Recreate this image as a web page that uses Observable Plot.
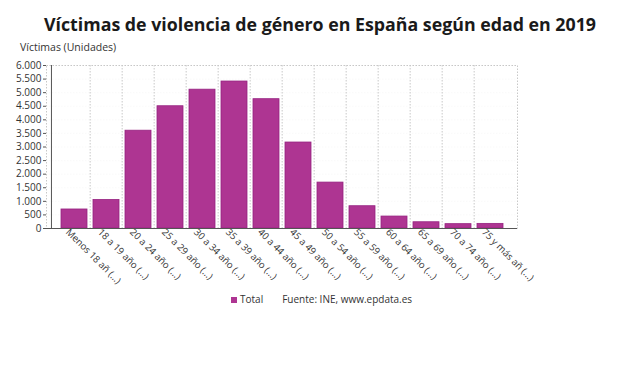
<!DOCTYPE html>
<html>
<head>
<meta charset="utf-8">
<script src="https://cdn.jsdelivr.net/npm/d3@7"></script>
<script src="https://cdn.jsdelivr.net/npm/@observablehq/plot@0.6"></script>
<style>
  html, body { margin: 0; padding: 0; background: #fff; }
  #wrap { position: relative; width: 640px; height: 376px; font-family: "Open Sans", sans-serif; color: #333; overflow: hidden; }
  #title { position: absolute; left: 0; width: 640px; top: 12px; text-align: center; font-size: 17.8px; font-weight: 700; color: #1a1a1a; white-space: nowrap; }
  #ylab { position: absolute; left: 20px; top: 40px; font-size: 10.5px; color: #333; }
  #legend { position: absolute; left: 231px; top: 292px; font-size: 10px; color: #333; white-space: nowrap; }
  #legend .sw { display: inline-block; width: 6px; height: 6px; background: #ae3592; margin-right: 3px; }
  #chart { position: absolute; left: 0; top: 0; }
</style>
</head>
<body>
<div id="wrap">
  <div id="chart"></div>
  <div id="title">Víctimas de violencia de género en España según edad en 2019</div>
  <div id="ylab">Víctimas (Unidades)</div>
  <div id="legend"><span class="sw"></span>Total<span style="display:inline-block;width:19px"></span>Fuente: INE, www.epdata.es</div>
</div>
<script>
const categories = ["Menos 18 añ (...)", "18 a 19 año (...)", "20 a 24 año (...)", "25 a 29 año (...)", "30 a 34 año (...)", "35 a 39 año (...)", "40 a 44 año (...)", "45 a 49 año (...)", "50 a 54 año (...)", "55 a 59 año (...)", "60 a 64 año (...)", "65 a 69 año (...)", "70 a 74 año (...)", "75 y más añ (...)"];
const values = [700, 1050, 3600, 4500, 5110, 5410, 4760, 3165, 1690, 820, 440, 230, 160, 170];
const yTicks = [0, 500, 1000, 1500, 2000, 2500, 3000, 3500, 4000, 4500, 5000, 5500, 6000];

const data = categories.map((c, i) => ({cat: c, value: values[i]}));
const esLocale = d3.formatLocale({decimal: ",", thousands: ".", grouping: [3], currency: ["", " €"]});
const fmt = esLocale.format(",d");

const W = 640, H = 376, ML = 46, MR = 123, MT = 65, MB = 148;
const padIn = 0.19, padOut = 0.3;
const step = (W - ML - MR) / (categories.length - padIn + 2 * padOut);

const grid = {stroke: "#c8c8c8", strokeDasharray: "1.5,1.5", strokeWidth: 1};

const chart = Plot.plot({
  width: W, height: H,
  marginLeft: ML, marginRight: MR, marginTop: MT, marginBottom: MB,
  style: {fontFamily: "Open Sans, sans-serif", fontSize: "10px", color: "#333", background: "transparent"},
  x: {domain: categories, paddingInner: padIn, paddingOuter: padOut, label: null},
  y: {domain: [0, 6000], label: null},
  marks: [
    Plot.frame(grid),
    Plot.gridY(yTicks, grid),
    Plot.ruleX(categories.slice(1), {x: d => d, dx: -step / 2, ...grid}),
    Plot.barY(data, {x: "cat", y: "value", fill: "#ae3592", stroke: "#962281", strokeWidth: 0.8}),
    Plot.ruleY([0], {stroke: "#555", strokeWidth: 1}),
    Plot.ruleX([categories[0]], {x: d => d, dx: -step * (padOut + (1 - padIn) / 2), stroke: "#555", strokeWidth: 1}),
    Plot.axisY(yTicks, {tickFormat: fmt, tickSize: 3, tickPadding: 2, stroke: "#555", fill: "#333", fontSize: 10, label: null}),
    Plot.axisX({tickRotate: 45, tickSize: 0, tickPadding: 0, dx: -7, dy: 2, fill: "#333", fontSize: 9.6, label: null})
  ]
});
document.getElementById("chart").appendChild(chart);
</script>
</body>
</html>
